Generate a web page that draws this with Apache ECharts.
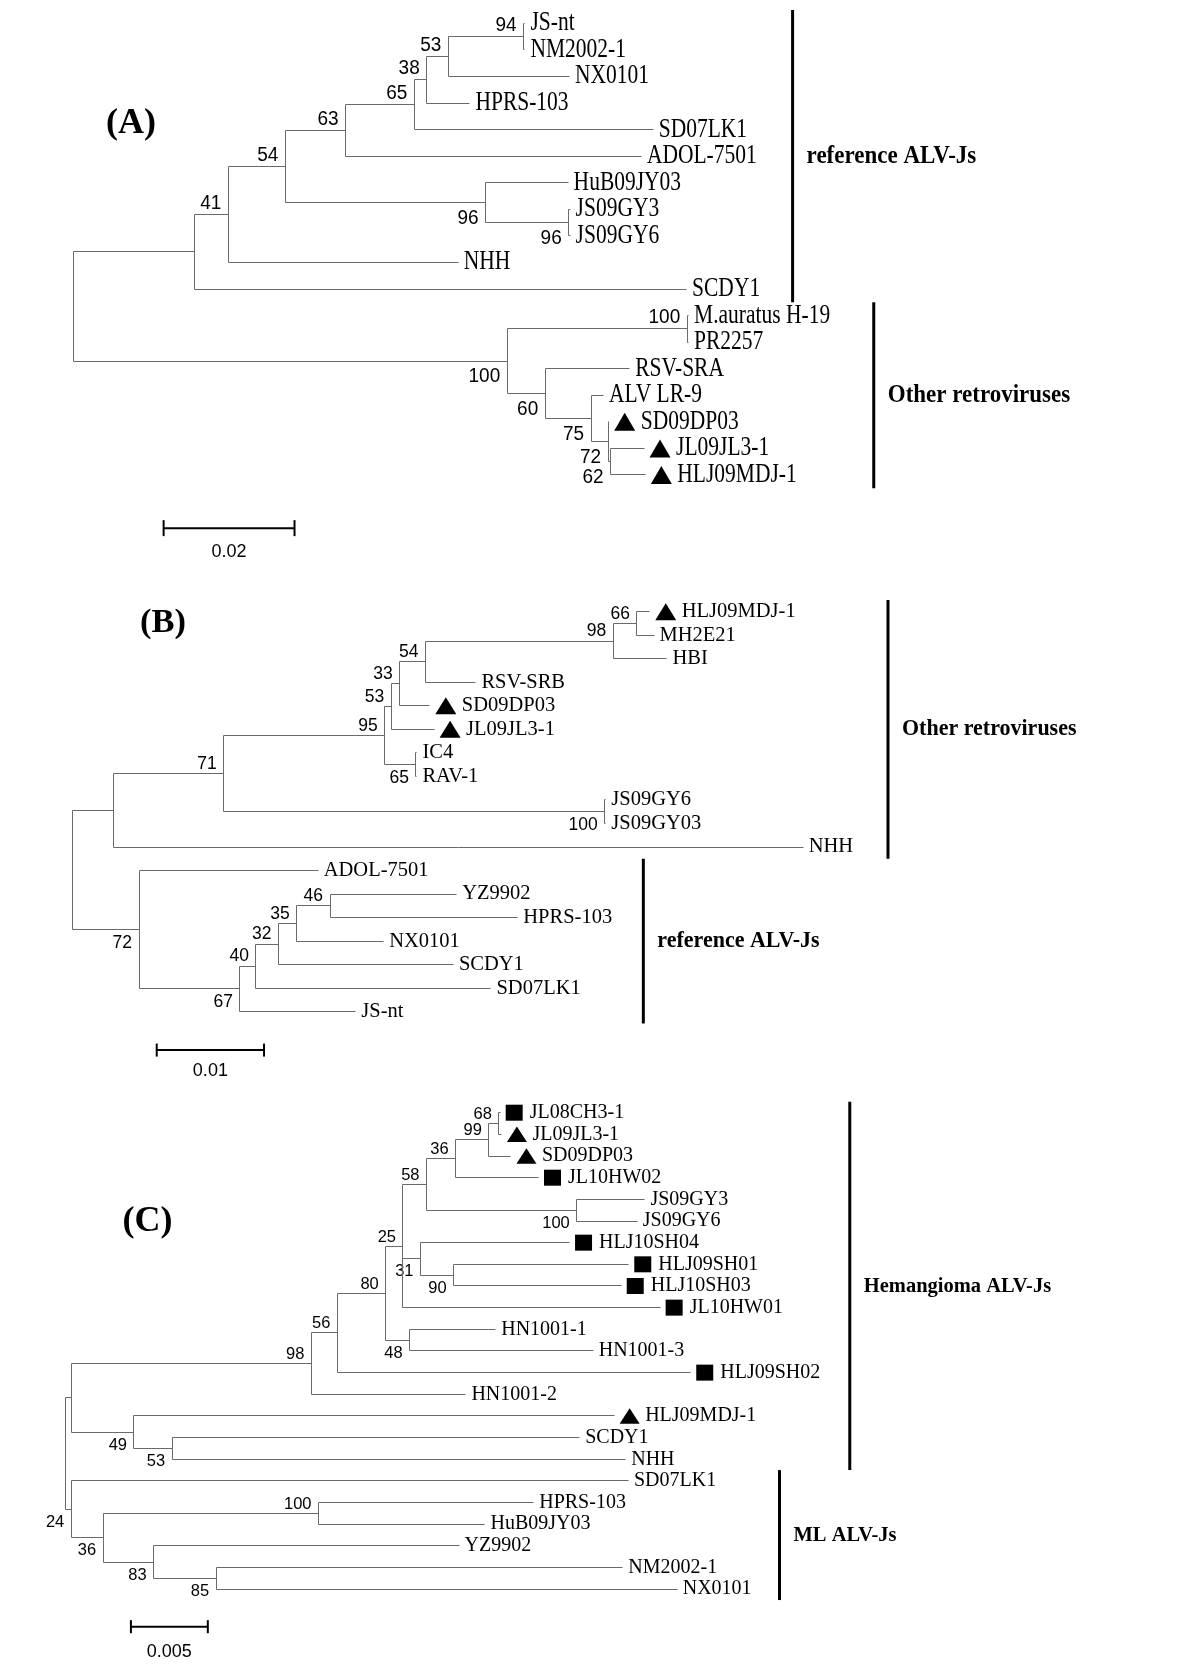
<!DOCTYPE html>
<html><head><meta charset="utf-8">
<script src="https://cdn.jsdelivr.net/npm/echarts@6/dist/echarts.min.js"></script>
<style>html,body{margin:0;padding:0;background:#fff}#chart{width:1200px;height:1664px}</style>
</head><body><div id="chart"></div>
<script>
// ---------- DATA: [node, parent, branch length, bootstrap] ----------
const branchesA = [
  ['A1','root',0.0185,null],
  ['A41','A1',0.0052,41],
  ['A54','A41',0.0087,54],
  ['A63','A54',0.0092,63],
  ['A65','A63',0.0105,65],
  ['A38','A65',0.0019,38],
  ['A53','A38',0.0033,53],
  ['A94','A53',0.0115,94],
  ['JS-nt','A94',0.0002,null],
  ['NM2002-1','A94',0.0002,null],
  ['NX0101','A53',0.0185,null],
  ['HPRS-103','A38',0.0066,null],
  ['SD07LK1','A65',0.0365,null],
  ['ADOL-7501','A63',0.0452,null],
  ['A96a','A54',0.0306,96],
  ['HuB09JY03','A96a',0.0126,null],
  ['A96b','A96a',0.0127,96],
  ['JS09GY3','A96b',0.0002,null],
  ['JS09GY6','A96b',0.0002,null],
  ['NHH','A41',0.0351,null],
  ['SCDY1','A1',0.0752,null],
  ['A100a','root',0.0663,100],
  ['A100b','A100a',0.0275,100],
  ['M.auratus H-19','A100b',0.0002,null],
  ['PR2257','A100b',0.0002,null],
  ['A60','A100a',0.0058,60],
  ['RSV-SRA','A60',0.0129,null],
  ['A75','A60',0.0070,75],
  ['ALV LR-9','A75',0.0019,null],
  ['A72','A75',0.0026,72],
  ['SD09DP03','A72',0.0001,null],
  ['A62','A72',0.0004,62],
  ['JL09JL3-1','A62',0.0051,null],
  ['HLJ09MDJ-1','A62',0.0053,null]
];
const markersA = {'SD09DP03':'triangle','JL09JL3-1':'triangle','HLJ09MDJ-1':'triangle'};
const groupsA = [['reference ALV-Js','JS-nt','SCDY1'],['Other retroviruses','M.auratus H-19','HLJ09MDJ-1']];
const scaleA = {value:0.02, label:'0.02'};

const branchesB = [
  ['B1','root',0.0038,null],
  ['B71','B1',0.0103,71],
  ['B95','B71',0.0150,95],
  ['B53','B95',0.0006,53],
  ['B33','B53',0.0008,33],
  ['B54','B33',0.0024,54],
  ['B98','B54',0.0175,98],
  ['B66','B98',0.0022,66],
  ['HLJ09MDJ-1','B66',0.0012,null],
  ['MH2E21','B66',0.0016,null],
  ['HBI','B98',0.0050,null],
  ['RSV-SRB','B54',0.0047,null],
  ['SD09DP03','B33',0.0028,null],
  ['JL09JL3-1','B53',0.0040,null],
  ['B65','B95',0.0029,65],
  ['IC4','B65',0.0001,null],
  ['RAV-1','B65',0.0001,null],
  ['B100','B71',0.0355,100],
  ['JS09GY6','B100',0.0001,null],
  ['JS09GY03','B100',0.0001,null],
  ['NHH','B1',0.0643,null],
  ['B72','root',0.0062,72],
  ['ADOL-7501','B72',0.0167,null],
  ['B67','B72',0.0094,67],
  ['B40','B67',0.0015,40],
  ['B32','B40',0.0021,32],
  ['B35','B32',0.0017,35],
  ['B46','B35',0.0031,46],
  ['YZ9902','B46',0.0118,null],
  ['HPRS-103','B46',0.0175,null],
  ['NX0101','B35',0.0081,null],
  ['SCDY1','B32',0.0163,null],
  ['SD07LK1','B40',0.0219,null],
  ['JS-nt','B67',0.0108,null]
];
const markersB = {'HLJ09MDJ-1':'triangle','SD09DP03':'triangle','JL09JL3-1':'triangle'};
const groupsB = [['Other retroviruses','HLJ09MDJ-1','NHH'],['reference ALV-Js','ADOL-7501','JS-nt']];
const scaleB = {value:0.01, label:'0.01'};

const branchesC = [
  ['C1','root',0.00036,null],
  ['C98','C1',0.01561,98],
  ['C56','C98',0.00170,56],
  ['C80','C56',0.00314,80],
  ['C25','C80',0.00112,25],
  ['C58','C25',0.00153,58],
  ['C36','C58',0.00189,36],
  ['C99','C36',0.00217,99],
  ['C68','C99',0.00065,68],
  ['JL08CH3-1','C68',0.00008,null],
  ['JL09JL3-1','C68',0.00016,null],
  ['SD09DP03','C99',0.00143,null],
  ['JL10HW02','C36',0.00539,null],
  ['C100','C58',0.00977,100],
  ['JS09GY3','C100',0.00443,null],
  ['JS09GY6','C100',0.00393,null],
  ['C31','C25',0.00114,31],
  ['HLJ10SH04','C31',0.00969,null],
  ['C90','C31',0.00215,90],
  ['HLJ09SH01','C90',0.01139,null],
  ['HLJ10SH03','C90',0.01090,null],
  ['JL10HW01','C25',0.01672,null],
  ['C48','C80',0.00155,48],
  ['HN1001-1','C48',0.00560,null],
  ['HN1001-3','C48',0.01194,null],
  ['HLJ09SH02','C56',0.02297,null],
  ['HN1001-2','C98',0.01005,null],
  ['C49','C1',0.00408,49],
  ['HLJ09MDJ-1','C49',0.03122,null],
  ['C53','C49',0.00248,53],
  ['SCDY1','C53',0.02650,null],
  ['NHH','C53',0.02949,null],
  ['C24','root',0.00036,24],
  ['SD07LK1','C24',0.03623,null],
  ['C36b','C24',0.00208,36],
  ['C100b','C36b',0.01400,100],
  ['HPRS-103','C100b',0.01399,null],
  ['HuB09JY03','C100b',0.01082,null],
  ['C83','C36b',0.00328,83],
  ['YZ9902','C83',0.01986,null],
  ['C85','C83',0.00406,85],
  ['NM2002-1','C85',0.02644,null],
  ['NX0101','C85',0.02998,null]
];
const markersC = {'JL08CH3-1':'square','JL09JL3-1':'triangle','SD09DP03':'triangle','JL10HW02':'square',
  'HLJ10SH04':'square','HLJ09SH01':'square','HLJ10SH03':'square','JL10HW01':'square','HLJ09SH02':'square','HLJ09MDJ-1':'triangle'};
const groupsC = [['Hemangioma ALV-Js','JL08CH3-1','NHH'],['ML ALV-Js','SD07LK1','NX0101']];
const scaleC = {value:0.005, label:'0.005'};

// ---------- STYLE / LAYOUT ----------
const panels = [
  {title:'(A)', titleX:106, titleY:124, titleSize:36,
   branches:branchesA, markers:markersA, groups:groupsA, scale:scaleA,
   left:73.3, top:23.3, pxPerUnit:6545, rowH:26.57, xMax:0.12,
   below:['A96a','A96b','A100a','A60','A75','A72','A62'],
   groupX:[0.1099,0.1223], scaleX0:0.0138, scaleRow:19.0, scaleTick:8, scaleLabelDy:24,
   leafSize:21.5, leafScaleY:1.25, bootSize:19, bootScaleY:1.1, bootAbove:-11.5, bootBelow:15.5,
   groupSize:23, groupScaleY:1.12, markW:21, markH:18},
  {title:'(B)', titleX:140, titleY:623, titleSize:34.5,
   branches:branchesB, markers:markersB, groups:groupsB, scale:scaleB,
   left:72.5, top:611.7, pxPerUnit:10730, rowH:23.53, xMax:0.08,
   below:['B65','B100','B72','B67'],
   groupX:[0.0760,0.0532], scaleX0:0.00785, scaleRow:18.63, scaleTick:6.5, scaleLabelDy:21,
   leafSize:20.5, leafScaleY:1.0, bootSize:17.5, bootScaleY:1.0, bootAbove:-9.5, bootBelow:13.5,
   groupSize:22, groupScaleY:1.05, markW:21, markH:17},
  {title:'(C)', titleX:122.5, titleY:1222, titleSize:36,
   branches:branchesC, markers:markersC, groups:groupsC, scale:scaleC,
   left:65.7, top:1112.7, pxPerUnit:15380, rowH:21.66, xMax:0.055,
   below:['C100','C31','C90','C48','C49','C53','C24','C36b','C83','C85'],
   groupX:[0.05098,0.04641], scaleX0:0.00424, scaleRow:23.73, scaleTick:6.5, scaleLabelDy:25,
   leafSize:20, leafScaleY:1.0, bootSize:16.5, bootScaleY:1.0, bootAbove:-9, bootBelow:13,
   groupSize:20.5, groupScaleY:1.05, markW:20, markH:15.5}
];
const LINE = '#6a6a6a';
const SERIF = '"Liberation Serif","Times New Roman",serif';
const SANS = '"Liberation Sans",Arial,sans-serif';
const crisp = v => Math.round(v - 0.5) + 0.5;

function buildTree(branches) {
  const nodes = {};
  const get = id => nodes[id] || (nodes[id] = {id, children: [], len: 0, boot: null});
  get('root');
  branches.forEach(([id, parent, len, boot]) => {
    const n = get(id); n.len = len; n.boot = boot; get(parent).children.push(n);
  });
  const list = []; let row = 0;
  (function walk(n, depth, pDepth) {
    n.depth = depth; n.pDepth = pDepth;
    if (!n.children.length) { n.row = row++; n.rowMin = n.rowMax = n.row; }
    else {
      n.children.forEach(c => walk(c, depth + c.len, depth));
      n.rowMin = n.children[0].row; n.rowMax = n.children[n.children.length - 1].row;
      n.row = (n.rowMin + n.rowMax) / 2;
    }
    list.push(n);
  })(nodes.root, 0, 0);
  return {list, nLeaves: row, byId: nodes};
}

const grids = [], xAxes = [], yAxes = [], series = [], graphics = [];
panels.forEach((cfg, pi) => {
  const tree = buildTree(cfg.branches);
  grids.push({left: cfg.left, top: cfg.top, width: cfg.xMax * cfg.pxPerUnit,
              height: (tree.nLeaves - 1) * cfg.rowH, containLabel: false});
  xAxes.push({gridIndex: pi, type: 'value', min: 0, max: cfg.xMax, show: false});
  yAxes.push({gridIndex: pi, type: 'value', min: 0, max: tree.nLeaves - 1, inverse: true, show: false});
  graphics.push({type: 'text', x: cfg.titleX, y: cfg.titleY,
    style: {text: cfg.title, font: `bold ${cfg.titleSize}px ${SERIF}`, fill: '#000', align: 'left', verticalAlign: 'middle'}});

  // tree
  series.push({
    type: 'custom', xAxisIndex: pi, yAxisIndex: pi, silent: true, animation: false, clip: false,
    data: tree.list.map((n, i) => [n.depth, n.row, n.pDepth, n.rowMin, n.rowMax, i]),
    encode: {x: [0, 2], y: [1, 3, 4]},
    renderItem: function (params, api) {
      const n = tree.list[api.value(5)];
      const p = api.coord([api.value(0), api.value(1)]);
      const px = api.coord([api.value(2), api.value(1)])[0];
      const y = crisp(p[1]);
      const ls = {stroke: LINE, lineWidth: 1};
      const kids = [];
      if (n.id !== 'root') kids.push({type: 'line', shape: {x1: crisp(px), y1: y, x2: crisp(p[0]), y2: y}, style: ls});
      if (n.children.length) {
        const t = api.coord([api.value(0), api.value(3)]);
        const b = api.coord([api.value(0), api.value(4)]);
        kids.push({type: 'line', shape: {x1: crisp(p[0]), y1: crisp(t[1]), x2: crisp(p[0]), y2: crisp(b[1])}, style: ls});
        if (n.boot != null) {
          const below = cfg.below.indexOf(n.id) >= 0;
          kids.push({type: 'text', x: p[0] - 7, y: p[1] + (below ? cfg.bootBelow : cfg.bootAbove), scaleY: cfg.bootScaleY,
            style: {text: String(n.boot), font: `${cfg.bootSize}px ${SANS}`, fill: '#000', align: 'right', verticalAlign: 'middle'}});
        }
      } else {
        let tx = p[0] + 5.5;
        const m = cfg.markers[n.id];
        if (m === 'triangle') {
          const w = cfg.markW, h = cfg.markH;
          kids.push({type: 'polygon', shape: {points: [[tx, p[1] + h / 2], [tx + w / 2, p[1] - h / 2], [tx + w, p[1] + h / 2]]}, style: {fill: '#000'}});
          tx += w + 5.5;
        } else if (m === 'square') {
          const w = 17, h = 16;
          kids.push({type: 'rect', shape: {x: tx, y: p[1] - h / 2, width: w, height: h}, style: {fill: '#000'}});
          tx += w + 7;
        }
        kids.push({type: 'text', x: tx, y: p[1], scaleY: cfg.leafScaleY,
          style: {text: n.id, font: `${cfg.leafSize}px ${SERIF}`, fill: '#000', align: 'left', verticalAlign: 'middle'}});
      }
      return {type: 'group', children: kids};
    }
  });

  // clade brackets
  series.push({
    type: 'custom', xAxisIndex: pi, yAxisIndex: pi, silent: true, animation: false, clip: false,
    data: cfg.groups.map((g, gi) => [cfg.groupX[gi], tree.byId[g[1]].row - 0.5, tree.byId[g[2]].row + 0.5, gi]),
    encode: {x: 0, y: [1, 2]},
    renderItem: function (params, api) {
      const g = cfg.groups[api.value(3)];
      const a = api.coord([api.value(0), api.value(1)]);
      const b = api.coord([api.value(0), api.value(2)]);
      return {type: 'group', children: [
        {type: 'line', shape: {x1: a[0], y1: a[1], x2: b[0], y2: b[1]}, style: {stroke: '#000', lineWidth: 3}},
        {type: 'text', x: a[0] + 14, y: (a[1] + b[1]) / 2, scaleY: cfg.groupScaleY,
         style: {text: g[0], font: `bold ${cfg.groupSize}px ${SERIF}`, fill: '#000', align: 'left', verticalAlign: 'middle'}}
      ]};
    }
  });

  // scale bar
  series.push({
    type: 'custom', xAxisIndex: pi, yAxisIndex: pi, silent: true, animation: false, clip: false,
    data: [[cfg.scaleX0, cfg.scaleX0 + cfg.scale.value, cfg.scaleRow]],
    encode: {x: [0, 1], y: 2},
    renderItem: function (params, api) {
      const a = api.coord([api.value(0), api.value(2)]);
      const b = api.coord([api.value(1), api.value(2)]);
      const st = {stroke: '#000', lineWidth: 2};
      const t = cfg.scaleTick;
      return {type: 'group', children: [
        {type: 'line', shape: {x1: a[0], y1: a[1], x2: b[0], y2: b[1]}, style: st},
        {type: 'line', shape: {x1: a[0], y1: a[1] - t, x2: a[0], y2: a[1] + t}, style: st},
        {type: 'line', shape: {x1: b[0], y1: b[1] - t, x2: b[0], y2: b[1] + t}, style: st},
        {type: 'text', x: (a[0] + b[0]) / 2, y: a[1] + cfg.scaleLabelDy,
         style: {text: cfg.scale.label, font: `18px ${SANS}`, fill: '#000', align: 'center', verticalAlign: 'middle'}}
      ]};
    }
  });
});

const chart = echarts.init(document.getElementById('chart'), null, {renderer: 'canvas'});
chart.setOption({
  backgroundColor: '#fff', animation: false,
  grid: grids, xAxis: xAxes, yAxis: yAxes, series: series, graphic: graphics
});
</script></body></html>
